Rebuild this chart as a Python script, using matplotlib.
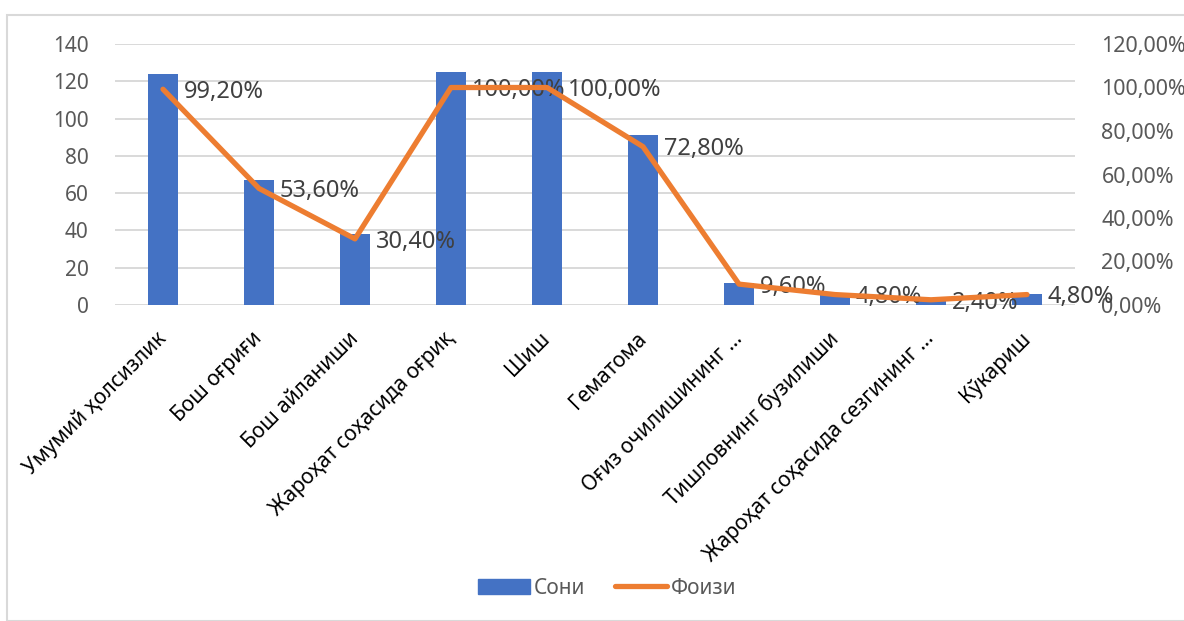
import matplotlib.pyplot as plt
from matplotlib.patches import Rectangle
from matplotlib.lines import Line2D
from matplotlib.ticker import FuncFormatter, MultipleLocator

plt.rcParams['font.family'] = ['Noto Sans', 'DejaVu Sans']

# symptoms, counts and share of patients
categories = [
    "Умумий ҳолсизлик",
    "Бош оғриғи",
    "Бош айланиши",
    "Жароҳат соҳасида оғриқ",
    "Шиш",
    "Гематома",
    "Оғиз очилишининг …",
    "Тишловнинг бузилиши",
    "Жароҳат соҳасида сезгининг …",
    "Кўкариш",
]
counts = [124, 67, 38, 125, 125, 91, 12, 6, 3, 6]
shares = [0.992, 0.536, 0.304, 1.0, 1.0, 0.728, 0.096, 0.048, 0.024, 0.048]

bar_color = "#4472C4"
line_color = "#ED7D31"
tick_color = "#595959"
label_color = "#404040"

fig = plt.figure(figsize=(11.84, 6.21), dpi=100)
W, H = 1184, 621

# chart area border
fig.patches.append(Rectangle((7 / W, 0), 1.0, 1 - 15 / H, transform=fig.transFigure,
                             fill=False, edgecolor="#D9D9D9", linewidth=1.5))

ax = fig.add_axes([115 / W, 1 - 305 / H, 960 / W, 261 / H])
x = list(range(len(categories)))

ax.bar(x, counts, width=0.31, color=bar_color, zorder=2)
ax.set_xlim(-0.5, len(categories) - 0.5)
ax.set_ylim(0, 140)
ax.yaxis.set_major_locator(MultipleLocator(20))
ax.grid(axis="y", color="#D9D9D9", linewidth=1.4, zorder=0)
for s in ax.spines.values():
    s.set_visible(False)
ax.tick_params(axis="y", length=0, pad=19, labelsize=15, labelcolor=tick_color)
ax.tick_params(axis="x", length=0, pad=22)
ax.set_xticks(x)
ax.set_xticklabels(categories, rotation=45, ha="right", va="center",
                   rotation_mode="anchor", fontsize=15, color="black")

ax2 = ax.twinx()
ax2.plot(x, shares, color=line_color, linewidth=3.8, solid_capstyle="round",
         solid_joinstyle="round", zorder=3)
ax2.set_ylim(0, 1.2)
ax2.yaxis.set_major_locator(MultipleLocator(0.2))
ax2.yaxis.set_major_formatter(FuncFormatter(lambda v, p: f"{v * 100:.2f}%".replace(".", ",")))
ax2.tick_params(axis="y", length=0, pad=19, labelsize=15.5, labelcolor=tick_color)
for s in ax2.spines.values():
    s.set_visible(False)

for xi, v in zip(x, shares):
    ax2.annotate(f"{v * 100:.2f}%".replace(".", ","), (xi, v), xytext=(15, -2),
                 textcoords="offset points", ha="left", va="center",
                 fontsize=17, color=label_color, zorder=2)

handles = [
    Rectangle((0, 0), 1, 1, color=bar_color),
    Line2D([0], [0], color=line_color, linewidth=3.8, solid_capstyle="round"),
]
fig.legend(handles, ["Сони", "Фоизи"], loc="center", bbox_to_anchor=(607 / W, 1 - 588 / H),
           ncol=2, frameon=False, fontsize=15, labelcolor=tick_color,
           handlelength=2.5, handletextpad=0.2, columnspacing=1.4)

fig.savefig("out.png", dpi=100)
